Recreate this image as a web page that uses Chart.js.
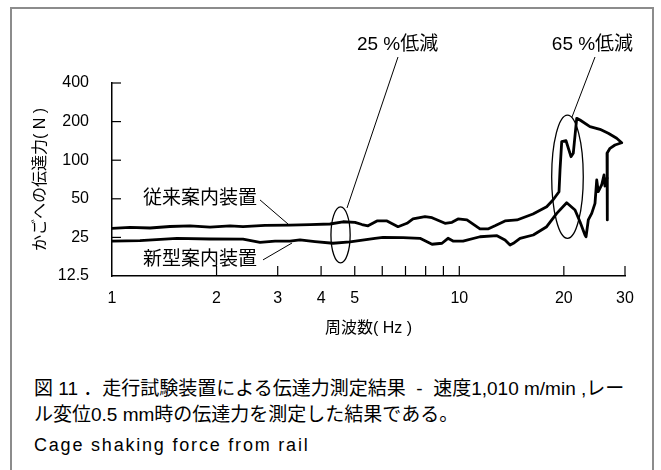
<!DOCTYPE html>
<html lang="ja">
<head>
<meta charset="utf-8">
<title>Cage shaking force from rail</title>
<script src="https://cdn.jsdelivr.net/npm/chart.js@4.4.1/dist/chart.umd.min.js"></script>
<style>
    html, body { margin: 0; padding: 0; background: #fff; }
    body { width: 661px; height: 470px; position: relative; overflow: hidden;
           font-family: "Liberation Sans", "Noto Sans CJK JP", sans-serif; color: #000; }
    .frame { position: absolute; left: 10px; top: 7px; width: 640px; height: 480px; border: 2px solid #8c8c8c; }
    #chart { position: absolute; left: 0; top: 0; }
    .cap { position: absolute; left: 34px; font-size: 19px; line-height: 28px; white-space: nowrap; }
    .cap.en { font-size: 18px; letter-spacing: 1.8px; }
</style>
</head>
<body>
<div class="frame"></div>
<canvas id="chart" width="661" height="350"></canvas>
<div class="cap" style="top:375px">図 11 ．走行試験装置による伝達力測定結果 &nbsp;-&nbsp; 速度1,010 m/min ,レー</div>
<div class="cap" style="top:401px">ル変位0.5 mm時の伝達力を測定した結果である。</div>
<div class="cap en" style="top:431px">Cage shaking force from rail</div>

<script>
// --- DATA ---
const seriesNames = ['従来案内装置', '新型案内装置'];

// conventional guide (upper curve), Hz / N
const freqUpper = [1.000, 1.127, 1.287, 1.469, 1.677, 1.915, 2.187, 2.384, 2.757, 3.254, 3.717, 4.243,
    4.626, 5.009, 5.246, 5.460, 5.794, 6.192, 6.661, 7.069, 7.356, 7.967, 8.346, 9.095, 9.528, 9.915,
    10.52, 11.47, 12.09, 12.67, 13.54, 14.66, 16.30, 17.85, 18.61, 19.37, 19.50, 19.72, 20.29, 20.97,
    21.29, 21.78, 22.26, 23.78, 25.41, 26.85, 28.39, 29.35, 28.07, 27.16, 26.63, 26.68];
const forceUpper = [29.4, 29.9, 29.6, 30.4, 30.8, 30.1, 30.7, 30.3, 31.0, 31.2, 31.5, 31.8,
    33.1, 32.7, 31.5, 30.8, 33.6, 33.6, 30.3, 32.2, 34.8, 36.3, 35.6, 32.2, 32.8, 34.8,
    34.2, 29.1, 29.1, 30.8, 33.6, 34.2, 38.1, 43.4, 48.9, 56.8, 83.9, 139.4, 141.9, 106.5,
    113.2, 212.2, 205.8, 182.5, 174.2, 162.1, 148.2, 136.9, 131.4, 123.8, 113.2, 34.2];

// new guide (lower curve), Hz / N
const freqLower = [1.000, 1.204, 1.539, 1.915, 2.384, 2.668, 2.947, 3.254, 3.478, 3.842, 4.328, 4.845,
    5.718, 6.030, 6.884, 7.705, 8.346, 8.917, 9.279, 9.592, 10.25, 11.47, 12.84, 13.54, 14.00, 14.31,
    14.96, 16.33, 17.85, 19.08, 20.38, 21.54, 22.26, 23.01, 23.17, 23.52, 24.06, 24.59, 24.87, 25.13,
    25.70, 26.10, 26.27, 26.63];
const forceLower = [23.4, 23.6, 24.6, 24.3, 24.2, 22.9, 23.4, 23.4, 23.9, 23.2, 22.5, 23.1,
    24.6, 25.0, 24.9, 24.6, 22.1, 22.5, 24.6, 23.4, 23.4, 25.3, 25.8, 23.9, 21.8, 22.5,
    24.6, 26.1, 30.3, 38.5, 46.6, 40.9, 33.1, 26.1, 25.3, 34.2, 38.5, 46.1, 70.1, 56.8,
    64.1, 76.7, 62.9, 72.6];

const xTickLabels = [1, 2, 3, 4, 5, 10, 20, 30];
const xTickMarks = [2, 3, 4, 5, 6, 7, 8, 9, 10, 20, 30];
const yTickLabels = [12.5, 25, 50, 100, 200, 400];

// --- ANNOTATIONS (in axis units) ---
const ellipses = [
    { fLo: 4.27, fHi: 4.85, nLo: 15.8, nHi: 43.2 },
    { fLo: 18.45, fHi: 22.75, nLo: 24.6, nHi: 225 }
];
const callouts = [
    { text: '25 %低減', at: [6.64, 790], from: [6.66, 638], to: [4.75, 42.4] },
    { text: '65 %低減', at: [24.18, 790], from: [24.59, 638], to: [21.11, 217] }
];
const curveLabels = [
    { text: seriesNames[0], at: [1.228, 50], from: [2.668, 49], to: [3.212, 31.8] },
    { text: seriesNames[1], at: [1.228, 16.7], from: [2.722, 16.7], to: [3.298, 22.6] }
];

const FONT = '"Liberation Sans", "Noto Sans CJK JP", sans-serif';
Chart.defaults.font.family = FONT;
Chart.defaults.color = '#000';

const toPoints = (xs, ys) => xs.map((f, i) => ({ x: f, y: ys[i] }));

const decorations = {
    id: 'decorations',
    afterDraw(chart) {
        const { ctx, chartArea } = chart;
        const x = chart.scales.x, y = chart.scales.y;
        const px = v => x.getPixelForValue(v);
        const py = v => y.getPixelForValue(v);
        const seg = (x1, y1, x2, y2) => { ctx.beginPath(); ctx.moveTo(x1, y1); ctx.lineTo(x2, y2); ctx.stroke(); };

        ctx.save();
        ctx.strokeStyle = '#000';

        // inward tick marks
        ctx.lineWidth = 1.2;
        xTickMarks.forEach(v => seg(px(v), chartArea.bottom, px(v), chartArea.bottom - 10));
        yTickLabels.slice(1).forEach(v => seg(chartArea.left, py(v), chartArea.left + 9, py(v)));

        // ellipses
        ctx.lineWidth = 1.3;
        ellipses.forEach(e => {
            const cx = (px(e.fLo) + px(e.fHi)) / 2, cy = (py(e.nLo) + py(e.nHi)) / 2;
            ctx.beginPath();
            ctx.ellipse(cx, cy, Math.abs(px(e.fHi) - px(e.fLo)) / 2, Math.abs(py(e.nLo) - py(e.nHi)) / 2, 0, 0, Math.PI * 2);
            ctx.stroke();
        });

        // leader lines + texts
        ctx.lineWidth = 1;
        ctx.fillStyle = '#000';
        ctx.font = '19px ' + FONT;
        ctx.textBaseline = 'middle';
        callouts.forEach(c => {
            seg(px(c.from[0]), py(c.from[1]), px(c.to[0]), py(c.to[1]));
            ctx.textAlign = 'center';
            ctx.fillText(c.text, px(c.at[0]), py(c.at[1]));
        });
        curveLabels.forEach(c => {
            seg(px(c.from[0]), py(c.from[1]), px(c.to[0]), py(c.to[1]));
            ctx.textAlign = 'left';
            ctx.fillText(c.text, px(c.at[0]), py(c.at[1]));
        });
        ctx.restore();
    }
};

new Chart(document.getElementById('chart'), {
    type: 'scatter',
    data: {
        datasets: [
            { label: seriesNames[0], data: toPoints(freqUpper, forceUpper) },
            { label: seriesNames[1], data: toPoints(freqLower, forceLower) }
        ]
    },
    options: {
        responsive: false,
        animation: false,
        layout: { padding: { left: 31, top: 83, right: 36, bottom: 12 } },
        elements: {
            point: { radius: 0, hoverRadius: 0 },
            line: { borderColor: '#000', borderWidth: 2.8, tension: 0, borderJoinStyle: 'round', borderCapStyle: 'round' }
        },
        datasets: { scatter: { showLine: true, borderColor: '#000', backgroundColor: '#000' } },
        plugins: { legend: { display: false }, tooltip: { enabled: false } },
        scales: {
            x: {
                type: 'logarithmic', min: 1, max: 30,
                afterBuildTicks: s => { s.ticks = xTickLabels.map(v => ({ value: v })); },
                afterFit: s => { s.height = 62; },
                grid: { display: false, drawTicks: false },
                border: { display: true, color: '#000', width: 1.5 },
                ticks: { autoSkip: false, maxRotation: 0, padding: 13, font: { size: 16 }, callback: v => String(v) },
                title: { display: true, text: '周波数( Hz )', font: { size: 16 }, padding: 0 }
            },
            y: {
                type: 'logarithmic', min: 12.5, max: 400,
                afterBuildTicks: s => { s.ticks = yTickLabels.map(v => ({ value: v })); },
                afterFit: s => { s.width = 81; },
                grid: { display: false, drawTicks: false },
                border: { display: true, color: '#000', width: 1.5 },
                ticks: { autoSkip: false, padding: 23, font: { size: 16 }, callback: v => String(v) },
                title: { display: true, text: 'かごへの伝達力( N )', font: { size: 16 }, padding: 0 }
            }
        }
    },
    plugins: [decorations]
});
</script>
</body>
</html>
